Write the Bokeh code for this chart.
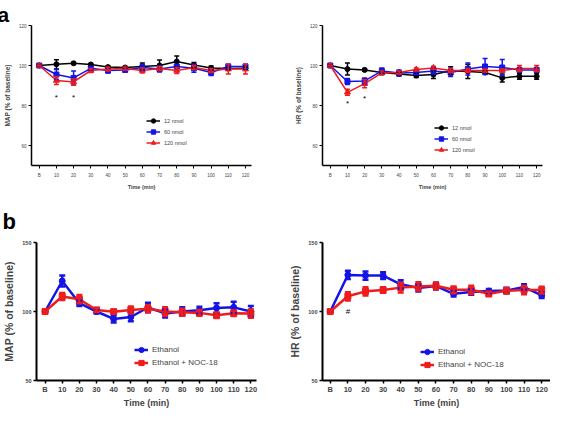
from bokeh.plotting import figure
from bokeh.models import (ColumnDataSource, Whisker, TeeHead, Legend, LegendItem,
                          FixedTicker, Range1d)
from bokeh.layouts import column, row
from bokeh.embed import file_html
from bokeh.resources import INLINE
from bokeh.core.properties import value

# ---------------- data ----------------
time = [0, 10, 20, 30, 40, 50, 60, 70, 80, 90, 100, 110, 120]
time_labels = ["B", "10", "20", "30", "40", "50", "60", "70", "80", "90", "100", "110", "120"]

# panel a, MAP
a_map_12 = [100, 100.6, 101.1, 100.5, 99.2, 99.0, 99.5, 100.0, 102.0, 100.2, 98.7, 98.5, 98.6]
a_map_12_err = [0, 2.3, 0.5, 0.5, 0.5, 0.5, 1.8, 2.8, 2.8, 1.3, 1.0, 0.5, 0.5]
a_map_60 = [100, 95.5, 93.8, 98.6, 97.5, 97.8, 99.0, 98.2, 99.5, 98.6, 96.5, 99.5, 99.5]
a_map_60_err = [0, 2.5, 3.5, 1.0, 1.2, 1.0, 1.5, 1.5, 1.0, 2.0, 1.5, 1.0, 1.0]
a_map_120 = [100, 92.5, 91.8, 97.5, 98.3, 98.5, 97.5, 98.5, 97.5, 99.0, 97.5, 98.2, 98.2]
a_map_120_err = [0, 2.0, 1.5, 1.0, 1.0, 0.8, 1.2, 1.0, 1.5, 1.0, 1.0, 2.5, 2.5]

# panel a, HR
a_hr_12 = [100, 98.2, 97.8, 96.5, 95.8, 95.0, 95.5, 97.4, 97.0, 96.5, 93.8, 94.6, 94.6]
a_hr_12_err = [0, 3.0, 0.7, 0.5, 0.8, 1.0, 2.0, 2.0, 3.5, 0.8, 2.0, 1.5, 1.5]
a_hr_60 = [100, 92.0, 92.3, 97.3, 96.2, 96.5, 97.3, 96.5, 98.2, 99.5, 99.0, 97.8, 97.8]
a_hr_60_err = [0, 1.5, 1.5, 1.5, 1.5, 1.0, 1.5, 2.0, 3.0, 4.0, 4.0, 1.0, 1.0]
a_hr_120 = [100, 86.6, 90.9, 96.3, 96.5, 98.0, 98.8, 97.5, 97.5, 97.5, 97.5, 98.5, 98.5]
a_hr_120_err = [0, 1.5, 2.0, 1.0, 0.8, 0.8, 0.8, 1.0, 1.0, 0.8, 0.8, 1.5, 1.5]

# panel b, MAP
b_map_eth = [100, 122.1, 106.0, 100.0, 94.6, 96.0, 102.9, 98.6, 100.0, 100.9, 102.5, 103.0, 100.0]
b_map_eth_err = [0, 4.0, 2.0, 1.5, 2.5, 3.0, 3.5, 3.0, 3.0, 2.5, 3.5, 4.0, 4.0]
b_map_noc = [100, 110.9, 108.9, 101.1, 99.8, 101.1, 102.0, 100.0, 99.5, 99.0, 97.3, 98.7, 98.5]
b_map_noc_err = [0, 2.5, 3.0, 1.5, 1.5, 2.5, 2.5, 3.0, 2.5, 2.0, 2.0, 2.0, 3.0]

# panel b, HR
b_hr_eth = [100, 126.5, 126.0, 126.0, 119.7, 117.0, 118.4, 112.8, 114.1, 114.8, 115.2, 117.7, 111.7]
b_hr_eth_err = [0, 3.0, 3.0, 2.5, 3.0, 2.5, 2.5, 2.0, 2.0, 1.5, 2.0, 2.0, 2.0]
b_hr_noc = [100, 111.0, 114.6, 115.5, 117.3, 118.2, 118.6, 115.7, 115.7, 112.8, 115.0, 115.5, 115.5]
b_hr_noc_err = [0, 3.0, 3.0, 2.0, 3.5, 3.0, 2.5, 2.5, 3.0, 1.5, 2.0, 3.0, 2.5]

a_series = ["12 nmol", "60 nmol", "120 nmol"]
b_series = ["Ethanol", "Ethanol + NOC-18"]
panel_labels = ["a", "b"]

a_map_sig_x = [10, 20]
a_map_sig_y = [84.0, 84.0]
a_hr_sig_x = [10, 20]
a_hr_sig_y = [80.8, 83.6]
b_hr_sig_x = [10]
b_hr_sig_y = [100.2]

FONT = "Liberation Sans"
BLACK, BLUE, RED = "#000000", "#1414e6", "#ee1c1c"


def make_fig(w, h, bl, br, bt, bb, xr, yr, yticks, ylabel, big):
    p = figure(width=w, height=h, x_range=Range1d(*xr), y_range=Range1d(*yr),
               min_border_left=bl, min_border_right=br, min_border_top=bt,
               min_border_bottom=bb, toolbar_location=None, output_backend="svg")
    p.outline_line_color = None
    p.grid.grid_line_color = None
    p.background_fill_color = None
    p.border_fill_color = None
    p.xaxis.ticker = FixedTicker(ticks=time)
    p.xaxis.major_label_overrides = {t: l for t, l in zip(time, time_labels)}
    p.yaxis.ticker = FixedTicker(ticks=yticks)
    p.yaxis.major_label_overrides = {t: str(t) for t in yticks}
    for ax in (p.xaxis[0], p.yaxis[0]):
        ax.axis_line_width = 2 if big else 1.5
        ax.major_tick_line_width = 1.5 if big else 1
        ax.major_tick_out = 3
        ax.major_tick_in = 0
        ax.minor_tick_line_color = None
        ax.major_label_text_font = FONT
        ax.axis_label_text_font = FONT
        ax.axis_label_text_font_style = "bold"
    p.xaxis.axis_label = "Time (min)"
    p.yaxis.axis_label = ylabel
    if big:
        p.xaxis.major_label_text_font_size = "7.5px"
        p.xaxis.major_label_text_font_style = "bold"
        p.yaxis.major_label_text_font_size = "5.5px"
        p.yaxis.major_label_text_font_style = "bold"
        p.xaxis.axis_label_text_font_size = "9px"
        p.yaxis.axis_label_text_font_size = "10.5px"
        p.xaxis.major_label_standoff = 1
        p.yaxis.major_label_standoff = 2
        p.xaxis.axis_label_standoff = 1
        p.yaxis.axis_label_standoff = 4
    else:
        p.xaxis.major_label_text_font_size = "4.5px"
        p.yaxis.major_label_text_font_size = "4.5px"
        p.xaxis.axis_label_text_font_size = "5.5px"
        p.yaxis.axis_label_text_font_size = "6.5px"
        p.xaxis.major_label_standoff = 4
        p.yaxis.major_label_standoff = 2
        p.xaxis.axis_label_standoff = 3
        p.yaxis.axis_label_standoff = 5
    return p


def add_series(p, y, err, color, marker, size, lw, cap):
    src = ColumnDataSource(dict(x=time, y=y,
                                upper=[a + e for a, e in zip(y, err)],
                                lower=[a - e for a, e in zip(y, err)]))
    wh = Whisker(source=src, base="x", upper="upper", lower="lower",
                 line_color=color, line_width=lw,
                 upper_head=TeeHead(size=cap, line_color=color, line_width=lw),
                 lower_head=TeeHead(size=cap, line_color=color, line_width=lw))
    wh.level = "glyph"
    p.add_layout(wh)
    ln = p.line("x", "y", source=src, line_color=color, line_width=lw)
    mk = p.scatter("x", "y", source=src, marker=marker, size=size,
                   fill_color=color, line_color=color)
    return ln, mk


def add_legend(p, items, loc, fs, gh):
    lg = Legend(items=[LegendItem(label=lab, renderers=list(r)) for lab, r in items],
                location=loc, background_fill_alpha=0, border_line_color=None,
                padding=0, margin=0, spacing=0, glyph_width=14, glyph_height=gh,
                label_height=gh, label_standoff=4, label_text_font=FONT,
                label_text_font_size=fs)
    p.add_layout(lg)


def add_marks(p, xs, ys, txt, fs):
    src = ColumnDataSource(dict(x=xs, y=ys, t=[txt] * len(xs)))
    p.text("x", "y", text="t", source=src, text_align="center",
           text_baseline="alphabetic", text_font=value(FONT),
           text_font_size=fs, text_color="black")


def panel_letter_title(p, letter, offset, standoff, size="22px"):
    p.title.text = letter
    p.title.text_font = FONT
    p.title.text_font_size = size
    p.title.text_font_style = "bold"
    p.title.text_color = "black"
    p.title.align = "left"
    p.title.offset = offset
    p.title.standoff = standoff


# ---------------- panel a, MAP ----------------
pa1 = make_fig(272, 193, 31, 21, 24, 28, (-4.5, 123.5), (50, 120),
               [60, 80, 100, 120], "MAP (% of baseline)", False)
panel_letter_title(pa1, panel_labels[0], -34, 0, "21px")
r1 = add_series(pa1, a_map_12, a_map_12_err, BLACK, "circle", 5, 1.5, 5)
r2 = add_series(pa1, a_map_60, a_map_60_err, BLUE, "square", 5, 1.5, 5)
r3 = add_series(pa1, a_map_120, a_map_120_err, RED, "triangle", 6, 1.5, 5)
add_legend(pa1, list(zip(a_series, [r1, r2, r3])), (115, 17), "5.5px", 11)
add_marks(pa1, a_map_sig_x, a_map_sig_y, "*", "8px")

# ---------------- panel a, HR ----------------
pa2 = make_fig(278, 193, 50, 8, 24, 28, (-4.5, 123.4), (50, 120),
               [60, 80, 100, 120], "HR (% of baseline)", False)
s1 = add_series(pa2, a_hr_12, a_hr_12_err, BLACK, "circle", 5, 1.5, 5)
s2 = add_series(pa2, a_hr_60, a_hr_60_err, BLUE, "square", 5, 1.5, 5)
s3 = add_series(pa2, a_hr_120, a_hr_120_err, RED, "triangle", 6, 1.5, 5)
add_legend(pa2, list(zip(a_series, [s1, s2, s3])), (112, 10), "5.5px", 11)
add_marks(pa2, a_hr_sig_x, a_hr_sig_y, "*", "8px")

# ---------------- panel b, MAP ----------------
pb1 = make_fig(272, 217, 31, 16, 49, 25, (-5, 123.3), (50, 150),
               [50, 100, 150], "MAP (% of baseline)", True)
panel_letter_title(pb1, panel_labels[1], -34, 18)
t1 = add_series(pb1, b_map_eth, b_map_eth_err, BLUE, "circle", 6, 2.5, 6)
t2 = add_series(pb1, b_map_noc, b_map_noc_err, RED, "square", 6, 2.5, 6)
add_legend(pb1, list(zip(b_series, [t1, t2])), (98, 11), "8px", 13)

# ---------------- panel b, HR ----------------
pb2 = make_fig(278, 217, 50, 0, 49, 25, (-4.4, 125), (50, 150),
               [50, 100, 150], "HR (% of baseline)", True)
u1 = add_series(pb2, b_hr_eth, b_hr_eth_err, BLUE, "circle", 6, 2.5, 6)
u2 = add_series(pb2, b_hr_noc, b_hr_noc_err, RED, "square", 6, 2.5, 6)
add_legend(pb2, list(zip(b_series, [u1, u2])), (98, 9), "8px", 13)
add_marks(pb2, b_hr_sig_x, b_hr_sig_y, "#", "8px")

layout = column(row(pa1, pa2), row(pb1, pb2))
open("out.html", "w").write(file_html(layout, INLINE))
